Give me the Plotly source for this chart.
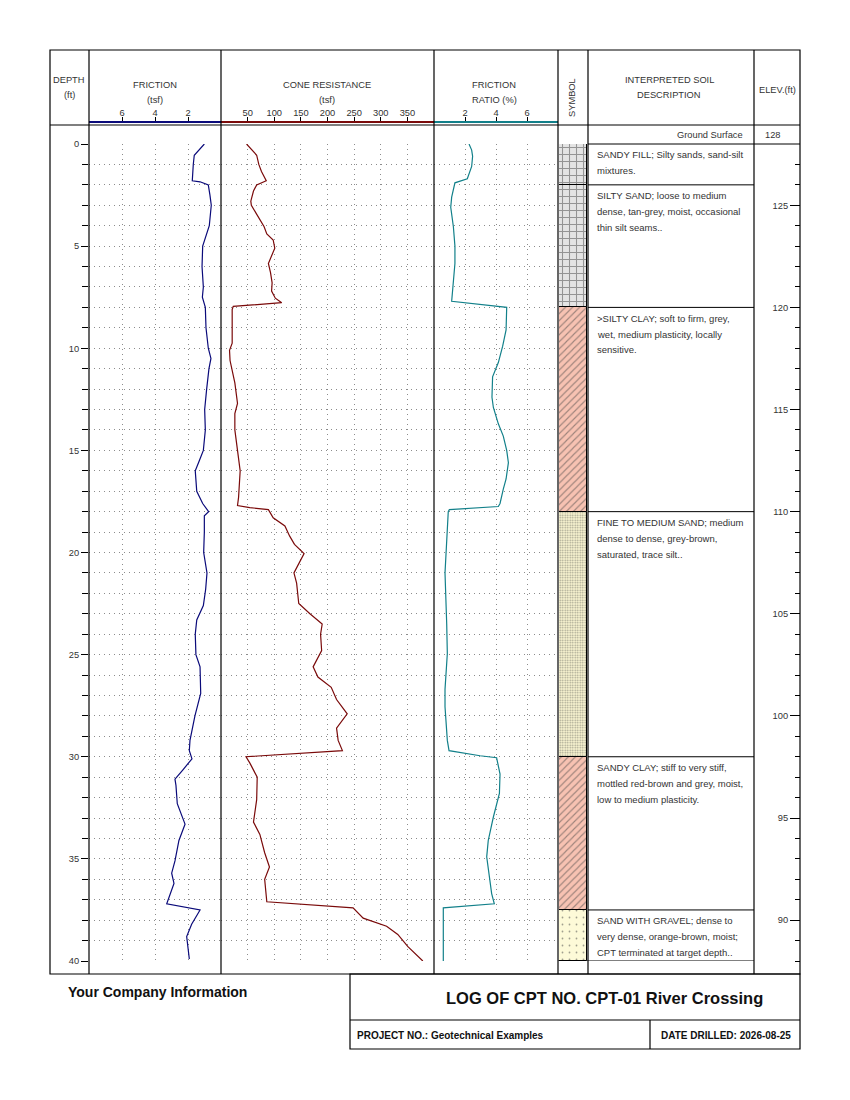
import plotly.graph_objects as go

# ---- CPT data ----
friction_depth = [0.0, 0.55, 1.0, 1.8, 1.85, 2.0, 2.5, 3.0, 4.0, 5.0, 6.0, 7.0, 7.5, 8.0, 9.0,
                  10.0, 10.5, 11.0, 12.0, 13.0, 14.0, 15.0, 15.5, 16.0, 17.0, 17.6, 18.0, 18.2,
                  19.0, 20.0, 21.0, 21.8, 22.6, 23.3, 24.0, 25.0, 25.6, 26.9, 28.0, 29.2, 29.7,
                  30.1, 30.65, 31.1, 31.4, 32.3, 33.3, 34.1, 35.1, 35.7, 36.2, 36.7, 37.2, 37.5,
                  38.2, 38.8, 39.9]
friction_tsf = [1.01, 1.62, 1.68, 1.74, 1.27, 0.77, 0.67, 0.59, 0.71, 1.11, 1.15, 1.07, 1.13, 0.95,
                0.91, 0.77, 0.61, 0.73, 0.87, 0.99, 0.95, 1.07, 1.31, 1.56, 1.47, 1.11, 0.75, 1.01,
                1.01, 1.05, 0.85, 0.93, 1.07, 1.47, 1.56, 1.52, 1.27, 1.23, 1.58, 1.88, 1.92,
                1.76, 2.32, 2.79, 2.73, 2.65, 2.18, 2.55, 2.79, 2.99, 2.85, 3.05, 3.29, 1.27,
                1.78, 2.08, 1.92]

cone_depth = [0.0, 0.55, 1.0, 1.35, 1.8, 2.0, 2.3, 2.8, 3.0, 3.55, 4.05, 4.4, 4.7, 5.1, 5.5, 5.85,
              6.3, 6.8, 7.2, 7.55, 7.77, 7.95, 8.1, 9.75, 10.1, 10.6, 11.7, 12.7, 13.2, 14.0,
              15.0, 15.6, 16.0, 17.3, 17.7, 17.8, 17.9, 18.3, 18.7, 19.2, 19.6, 20.05, 21.0,
              21.5, 22.5, 23.0, 23.5, 24.0, 24.8, 25.6, 26.1, 26.6, 27.2, 27.9, 28.6, 29.2,
              29.7, 30.0, 30.3, 31.0, 32.1, 33.2, 33.8, 34.7, 35.4, 36.0, 37.1, 37.4, 37.9,
              38.3, 38.7, 39.3, 40.0]
cone_tsf = [48, 67, 71, 76, 85, 67, 61, 56, 57, 70, 81, 86, 98, 101, 95, 89,
            93, 96, 95, 102, 114, 23, 21, 21, 16, 17, 26, 31, 26, 26,
            31, 34, 36, 33, 31, 54, 89, 98, 120, 129, 138, 156, 137,
            142, 146, 167, 190, 187, 189, 173, 182, 207, 217, 237, 217, 220,
            228, 47, 54, 68, 67, 61, 73, 82, 91, 82, 86, 248, 267,
            311, 332, 351, 379]

ratio_depth = [0.0, 0.3, 0.6, 1.1, 1.7, 1.9, 2.6, 3.1, 4.05, 5.0, 5.85, 6.8, 7.7, 8.0, 9.1, 9.9,
               10.7, 11.4, 12.4, 12.9, 13.7, 14.3, 15.0, 15.6, 16.4, 16.9, 17.6, 17.75, 17.9,
               18.0, 19.8, 21.0, 23.5, 24.95, 26.7, 27.55, 29.2, 29.7, 29.95, 30.05, 30.85,
               31.8, 32.95, 34.1, 34.9, 36.0, 36.7, 37.2, 37.4, 38.0, 40.0]
ratio_pct = [2.26, 2.43, 2.49, 2.43, 2.15, 1.35, 1.14, 1.08, 1.25, 1.35, 1.35, 1.25, 1.14, 4.69,
             4.65, 4.43, 4.15, 3.78, 3.74, 3.83, 4.15, 4.47, 4.69, 4.80, 4.65, 4.47, 4.26, 4.15,
             0.99, 0.92, 0.82, 0.71, 0.82, 0.86, 0.71, 0.71, 0.86, 0.97, 2.97, 4.04, 4.26,
             4.22, 3.83, 3.50, 3.40, 3.57, 3.72, 3.89, 0.60, 0.60, 0.60]

# ---- soil layers ----
layer_top = [0, 2, 8, 18, 30, 37.5]
layer_bottom = [2, 8, 18, 30, 37.5, 40]
layer_desc = [
    ["SANDY FILL; Silty sands, sand-silt", "mixtures."],
    ["SILTY SAND; loose to medium", "dense, tan-grey, moist, occasional", "thin silt seams.."],
    [">SILTY CLAY; soft to firm, grey,", "wet, medium plasticity, locally", "sensitive."],
    ["FINE TO MEDIUM SAND; medium", "dense to dense, grey-brown,", "saturated, trace silt.."],
    ["SANDY CLAY; stiff to very stiff,", "mottled red-brown and grey, moist,", "low to medium plasticity."],
    ["SAND WITH GRAVEL; dense to", "very dense, orange-brown, moist;", "CPT terminated at target depth.."],
]
ground_elev = 128
max_depth = 40

# ---- tick labels ----
depth_ticks = [0, 5, 10, 15, 20, 25, 30, 35, 40]
friction_ticks = [6, 4, 2]
cone_ticks = [50, 100, 150, 200, 250, 300, 350]
ratio_ticks = [2, 4, 6]
elev_ticks = [90, 95, 100, 105, 110, 115, 120, 125]

W, H = 850, 1100
FONT = "Liberation Sans, Arial, sans-serif"
TXT = "#333333"
GRID = "#8c8c8c"
GRID_DASH = "1px,4px"
C_FRIC, C_CONE, C_RATIO = "#0a0a7a", "#7a0a0a", "#12808a"


def px(x):
    return x / W


def py(y):
    return 1 - y / H


y_dom = [py(961), py(144)]

# symbol styles per layer
sym_color = ["#e4e4e4", "#e4e4e4", "#f7c2b2", "#fdf8d4", "#f7c2b2", "#fdfad8"]
sym_shape = ["+", "+", "/", ".", "/", "."]
sym_size = [7, 7, 5, 2.5, 5, 7]
sym_solid = [0.28, 0.28, 0.22, 0.4, 0.22, 0.05]

fig = go.Figure()

fig.add_trace(go.Scatter(x=friction_tsf, y=friction_depth, mode="lines",
                         line=dict(color=C_FRIC, width=1.2), xaxis="x", yaxis="y"))
fig.add_trace(go.Scatter(x=cone_tsf, y=cone_depth, mode="lines",
                         line=dict(color=C_CONE, width=1.2), xaxis="x2", yaxis="y"))
fig.add_trace(go.Scatter(x=ratio_pct, y=ratio_depth, mode="lines",
                         line=dict(color=C_RATIO, width=1.2), xaxis="x3", yaxis="y"))

mids = [(t + b) / 2 for t, b in zip(layer_top, layer_bottom)]
thick = [b - t for t, b in zip(layer_top, layer_bottom)]
fig.add_trace(go.Bar(
    x=[1] * len(mids), y=mids, width=thick, base=0, orientation="h",
    marker=dict(color=sym_color, line=dict(color="black", width=1),
                pattern=dict(shape=sym_shape, size=sym_size, solidity=sym_solid,
                             fgcolor="black", fillmode="overlay")),
    xaxis="x4", yaxis="y3", hoverinfo="skip"))

# elevation axis holder
fig.add_trace(go.Scatter(x=[0.5, 0.5], y=[ground_elev - max_depth, ground_elev], mode="lines",
                         line=dict(width=0), xaxis="x5", yaxis="y2", hoverinfo="skip"))

track_x = dict(side="top", anchor="free", position=py(122), ticks="outside", ticklen=4,
               tickcolor="black", showline=True, linewidth=1.5, showgrid=True,
               gridcolor=GRID, griddash=GRID_DASH, gridwidth=1, zeroline=False,
               ticklabelstandoff=-2,
               tickfont=dict(size=9.3, color=TXT, family=FONT), fixedrange=True)

fig.update_layout(
    width=W, height=H, margin=dict(l=0, r=0, t=0, b=0, pad=0, autoexpand=False),
    paper_bgcolor="white", plot_bgcolor="rgba(0,0,0,0)", showlegend=False,
    bargap=0, font=dict(family=FONT, color=TXT),
    xaxis=dict(domain=[px(89), px(221)], range=[8, 0], tickvals=friction_ticks,
               linecolor=C_FRIC, **track_x),
    xaxis2=dict(domain=[px(221), px(434)], range=[0, 400], tickvals=cone_ticks,
                linecolor=C_CONE, **track_x),
    xaxis3=dict(domain=[px(434), px(558)], range=[0, 8], tickvals=ratio_ticks,
                linecolor=C_RATIO, **track_x),
    xaxis4=dict(domain=[px(559), px(587)], range=[0, 1], visible=False, anchor="y3"),
    xaxis5=dict(domain=[px(754), px(800)], range=[0, 1], visible=False, anchor="y2"),
    yaxis=dict(domain=y_dom, range=[max_depth, 0], anchor="x", side="left",
               tickvals=depth_ticks, ticks="outside", ticklen=7, tickcolor="black",
               showgrid=True, gridcolor=GRID, griddash=GRID_DASH, gridwidth=1,
               zeroline=False, showline=False,
               tickfont=dict(size=9.3, color=TXT, family=FONT),
               minor=dict(dtick=1, ticks="outside", ticklen=6, tickcolor="black",
                          showgrid=True, gridcolor=GRID, griddash=GRID_DASH),
               fixedrange=True),
    yaxis2=dict(domain=y_dom, range=[ground_elev - max_depth, ground_elev], anchor="free",
                position=px(800), side="left", tickvals=elev_ticks, ticks="outside",
                ticklen=10, tickcolor="black", showgrid=False, zeroline=False, showline=False,
                tickfont=dict(size=9.3, color=TXT, family=FONT),
                minor=dict(tickvals=list(range(ground_elev - max_depth, ground_elev)),
                           ticks="outside", ticklen=5, tickcolor="black"),
                fixedrange=True),
    yaxis3=dict(domain=y_dom, range=[max_depth, 0], anchor="x4", visible=False),
)

# ---- frame lines ----
shapes = []


def hline(y, x0, x1, width=1):
    shapes.append(dict(type="line", xref="paper", yref="paper", x0=px(x0), x1=px(x1),
                       y0=py(y), y1=py(y), line=dict(color="black", width=width)))


def vline(x, y0, y1, width=1):
    shapes.append(dict(type="line", xref="paper", yref="paper", x0=px(x), x1=px(x),
                       y0=py(y0), y1=py(y1), line=dict(color="black", width=width)))


shapes.append(dict(type="rect", xref="paper", yref="paper", x0=px(50), x1=px(800),
                   y0=py(974), y1=py(50), line=dict(color="black", width=1.2)))
hline(125, 50, 800, 1.2)
for x in [89, 221, 434, 558, 588, 754]:
    vline(x, 50, 974, 1.2)
hline(144, 588, 800)
for b in layer_bottom:
    lo = 558 if b == max_depth else 588
    shapes.append(dict(type="line", xref="paper", yref="y3", x0=px(lo), x1=px(754),
                       y0=b, y1=b, line=dict(color="black", width=1)))

# title block
shapes.append(dict(type="rect", xref="paper", yref="paper", x0=px(350), x1=px(800),
                   y0=py(1049), y1=py(974), line=dict(color="black", width=1.2)))
hline(1020, 350, 800, 1.2)
vline(650, 1020, 1049, 1.2)

fig.update_layout(shapes=shapes)

# ---- text ----
ann = []


def label(text, x, y, size=9.3, anchor="center", bold=False, color=TXT, angle=0):
    ann.append(dict(text="<b>%s</b>" % text if bold else text, xref="paper", yref="paper",
                    x=px(x), y=py(y), xanchor=anchor, yanchor="middle", showarrow=False,
                    textangle=angle, font=dict(family=FONT, size=size, color=color)))


label("DEPTH", 69, 80)
label("(ft)", 69, 95)
label("FRICTION", 155, 85)
label("(tsf)", 155, 100)
label("CONE RESISTANCE", 327, 85)
label("(tsf)", 327, 100)
label("FRICTION", 494, 85)
label("RATIO (%)", 494, 100)
label("SYMBOL", 572, 98, angle=-90)
label("INTERPRETED SOIL", 669, 80)
label("DESCRIPTION", 669, 95)
label("ELEV.(ft)", 777, 90)
label("Ground Surface", 745, 135, anchor="right")
label(str(ground_elev), 773, 135)

for top, lines in zip(layer_top, layer_desc):
    for i, line in enumerate(lines):
        ann.append(dict(text=line, xref="paper", yref="y3", x=px(595), y=top,
                        xanchor="left", yanchor="middle", yshift=-(11 + 15.7 * i),
                        showarrow=False, font=dict(family=FONT, size=9.5, color=TXT)))

label("Your Company Information", 66, 992, size=14, anchor="left", bold=True, color="#111111")
label("LOG OF CPT NO. CPT-01 River Crossing", 604, 998, size=16.5, bold=True, color="#111111")
label("PROJECT NO.: Geotechnical Examples", 355, 1035, size=10, anchor="left", bold=True,
      color="#111111")
label("DATE DRILLED: 2026-08-25", 659, 1035, size=10, anchor="left", bold=True,
      color="#111111")

fig.update_layout(annotations=ann)

fig.write_html("out.html", config=dict(displayModeBar=False),
               post_script="document.body.style.margin='0';document.body.style.overflow='hidden';")
